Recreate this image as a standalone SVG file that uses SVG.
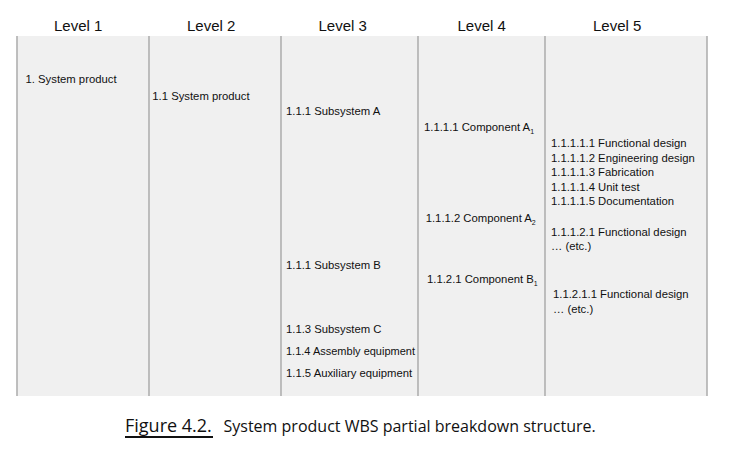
<svg xmlns="http://www.w3.org/2000/svg" width="740" height="457" viewBox="0 0 740 457">
<style>
.hdr{font-family:"Liberation Sans",Arial,sans-serif;font-size:15px;fill:#111}
.t{font-family:"Liberation Sans",Arial,sans-serif;font-size:11.3px;fill:#111}
.sub{font-size:7px}
.col{stroke:#b0b0b0;stroke-width:1.6}
.cap{font-family:"Open Sans","Noto Sans",sans-serif;fill:#111}
</style>
<rect width="740" height="457" fill="#fff"/>
<g id="table">
<rect x="17" y="36" width="690" height="360" fill="#f0f0f0"/>
<line class="col" x1="17" y1="36" x2="17" y2="396"/>
<line class="col" x1="149" y1="36" x2="149" y2="396"/>
<line class="col" x1="281" y1="36" x2="281" y2="396"/>
<line class="col" x1="418" y1="36" x2="418" y2="396"/>
<line class="col" x1="545" y1="36" x2="545" y2="396"/>
<line class="col" x1="707" y1="36" x2="707" y2="396"/>
</g>
<g id="headers">
<text class="hdr" x="54" y="30.5">Level 1</text>
<text class="hdr" x="187" y="30.5">Level 2</text>
<text class="hdr" x="318.5" y="30.5">Level 3</text>
<text class="hdr" x="457.5" y="30.5">Level 4</text>
<text class="hdr" x="593" y="30.5">Level 5</text>
</g>
<g id="level1">
<text class="t" x="25.5" y="83.3">1. System product</text>
</g>
<g id="level2">
<text class="t" x="152.3" y="99.5">1.1 System product</text>
</g>
<g id="level3">
<text class="t" x="286" y="115">1.1.1 Subsystem A</text>
<text class="t" x="286" y="269">1.1.1 Subsystem B</text>
<text class="t" x="286" y="333">1.1.3 Subsystem C</text>
<text class="t" x="286" y="355" textLength="129" lengthAdjust="spacingAndGlyphs">1.1.4 Assembly equipment</text>
<text class="t" x="286" y="377">1.1.5 Auxiliary equipment</text>
</g>
<g id="level4">
<text class="t" x="424" y="131">1.1.1.1 Component A<tspan class="sub" dy="3">1</tspan></text>
<text class="t" x="425.7" y="221.7">1.1.1.2 Component A<tspan class="sub" dy="3">2</tspan></text>
<text class="t" x="427" y="283">1.1.2.1 Component B<tspan class="sub" dy="3">1</tspan></text>
</g>
<g id="level5">
<text class="t" x="551" y="147.3">1.1.1.1.1 Functional design</text>
<text class="t" x="551" y="162">1.1.1.1.2 Engineering design</text>
<text class="t" x="551" y="176.3">1.1.1.1.3 Fabrication</text>
<text class="t" x="551" y="190.7">1.1.1.1.4 Unit test</text>
<text class="t" x="551" y="205">1.1.1.1.5 Documentation</text>
<text class="t" x="551" y="235.7">1.1.1.2.1 Functional design</text>
<text class="t" x="551" y="250">… (etc.)</text>
<text class="t" x="553" y="298">1.1.2.1.1 Functional design</text>
<text class="t" x="553" y="312.5">… (etc.)</text>
</g>
<g id="caption">
<text class="cap" x="125" y="432" font-size="18">Figure 4.2.</text>
<line x1="125" y1="437" x2="213" y2="437" stroke="#111" stroke-width="1.8"/>
<text class="cap" x="223.5" y="432" font-size="16">System product WBS partial breakdown structure.</text>
</g>
</svg>
